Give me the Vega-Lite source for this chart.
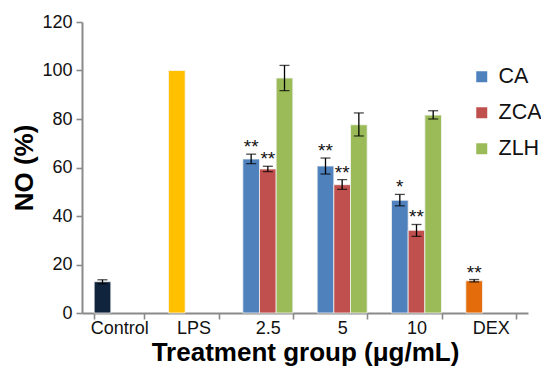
{
  "$schema": "https://vega.github.io/schema/vega-lite/v6.json",
  "width": 446,
  "height": 291,
  "autosize": {"type": "none"},
  "padding": {"left": 82, "top": 22, "right": 13, "bottom": 53},
  "background": "white",
  "config": {
    "font": "Liberation Sans",
    "view": {"stroke": null},
    "axis": {
      "domainColor": "#8a8a8a",
      "domainWidth": 2,
      "tickColor": "#8a8a8a",
      "tickWidth": 1.6,
      "labelColor": "#111111",
      "labelFont": "Liberation Sans",
      "labelFontSize": 18,
      "titleFont": "Liberation Sans",
      "titleFontWeight": "bold",
      "titleFontSize": 26,
      "titleColor": "#000000",
      "grid": false
    }
  },
  "data": {
    "values": [
      {"group": "Control", "series": "Control", "slot": 1, "value": 12.9, "lo": 12.1, "hi": 13.7, "star": ""},
      {"group": "LPS", "series": "LPS", "slot": 1, "value": 100, "lo": 100, "hi": 100, "star": ""},
      {"group": "2.5", "series": "CA", "slot": 1, "value": 63.5, "lo": 61.6, "hi": 65.5, "star": "**"},
      {"group": "2.5", "series": "ZCA", "slot": 2, "value": 59.4, "lo": 58.3, "hi": 60.5, "star": "**"},
      {"group": "2.5", "series": "ZLH", "slot": 3, "value": 96.9, "lo": 91.7, "hi": 102.1, "star": ""},
      {"group": "5", "series": "CA", "slot": 1, "value": 60.6, "lo": 57.3, "hi": 63.9, "star": "**"},
      {"group": "5", "series": "ZCA", "slot": 2, "value": 52.9, "lo": 51.0, "hi": 55.0, "star": "**"},
      {"group": "5", "series": "ZLH", "slot": 3, "value": 77.6, "lo": 73.0, "hi": 82.5, "star": ""},
      {"group": "10", "series": "CA", "slot": 1, "value": 46.5, "lo": 44.2, "hi": 48.9, "star": "*"},
      {"group": "10", "series": "ZCA", "slot": 2, "value": 34.1, "lo": 31.6, "hi": 36.5, "star": "**"},
      {"group": "10", "series": "ZLH", "slot": 3, "value": 81.6, "lo": 80.0, "hi": 83.4, "star": ""},
      {"group": "DEX", "series": "DEX", "slot": 1, "value": 13.3, "lo": 12.8, "hi": 13.8, "star": "**"}
    ]
  },
  "encoding": {
    "x": {
      "field": "group",
      "type": "nominal",
      "sort": ["Control", "LPS", "2.5", "5", "10", "DEX"],
      "scale": {"paddingInner": 0.327, "paddingOuter": 0.1635},
      "axis": {
        "title": "Treatment group (μg/mL)",
        "labelAngle": 0,
        "tickBand": "extent",
        "tickSize": 6,
        "labelPadding": 0.5,
        "titlePadding": 1.5
      }
    },
    "xOffset": {
      "field": "slot",
      "type": "ordinal",
      "scale": {"domain": [1, 2, 3], "paddingInner": 0, "paddingOuter": 0}
    }
  },
  "layer": [
    {
      "mark": {"type": "bar", "stroke": "#f4f4f4", "strokeWidth": 0.8},
      "encoding": {
        "y": {
          "field": "value",
          "type": "quantitative",
          "title": "NO (%)",
          "scale": {"domain": [0, 120]},
          "axis": {"values": [0, 20, 40, 60, 80, 100, 120], "tickSize": 6, "labelPadding": 4, "titlePadding": 4}
        },
        "color": {
          "field": "series",
          "type": "nominal",
          "scale": {
            "domain": ["CA", "ZCA", "ZLH", "Control", "LPS", "DEX"],
            "range": ["#4F81BD", "#C0504D", "#9BBB59", "#10243E", "#FFC000", "#E46C0A"]
          },
          "legend": {
            "values": ["CA", "ZCA", "ZLH"],
            "title": null,
            "orient": "none",
            "legendX": 389,
            "legendY": 44,
            "padding": 0,
            "symbolType": "square",
            "symbolSize": 121,
            "symbolStrokeWidth": 0,
            "labelFontSize": 21.5,
            "labelFont": "Liberation Sans",
            "labelColor": "#111111",
            "labelOffset": 6,
            "rowPadding": 13
          }
        }
      }
    },
    {
      "transform": [{"filter": "datum.hi > datum.lo"}],
      "mark": {"type": "rule", "color": "black", "strokeWidth": 1.3},
      "encoding": {
        "y": {"field": "lo", "type": "quantitative", "title": "NO (%)"},
        "y2": {"field": "hi"}
      }
    },
    {
      "transform": [{"filter": "datum.hi > datum.lo"}],
      "mark": {"type": "tick", "color": "black", "thickness": 1.3, "size": 10, "orient": "horizontal"},
      "encoding": {
        "y": {"field": "lo", "type": "quantitative", "title": "NO (%)"}
      }
    },
    {
      "transform": [{"filter": "datum.hi > datum.lo"}],
      "mark": {"type": "tick", "color": "black", "thickness": 1.3, "size": 10, "orient": "horizontal"},
      "encoding": {
        "y": {"field": "hi", "type": "quantitative", "title": "NO (%)"}
      }
    },
    {
      "transform": [{"filter": "datum.star != ''"}],
      "mark": {"type": "text", "fontSize": 19, "color": "#111111", "baseline": "alphabetic", "dy": -1, "align": "center"},
      "encoding": {
        "y": {"field": "hi", "type": "quantitative", "title": "NO (%)"},
        "text": {"field": "star"}
      }
    }
  ]
}
